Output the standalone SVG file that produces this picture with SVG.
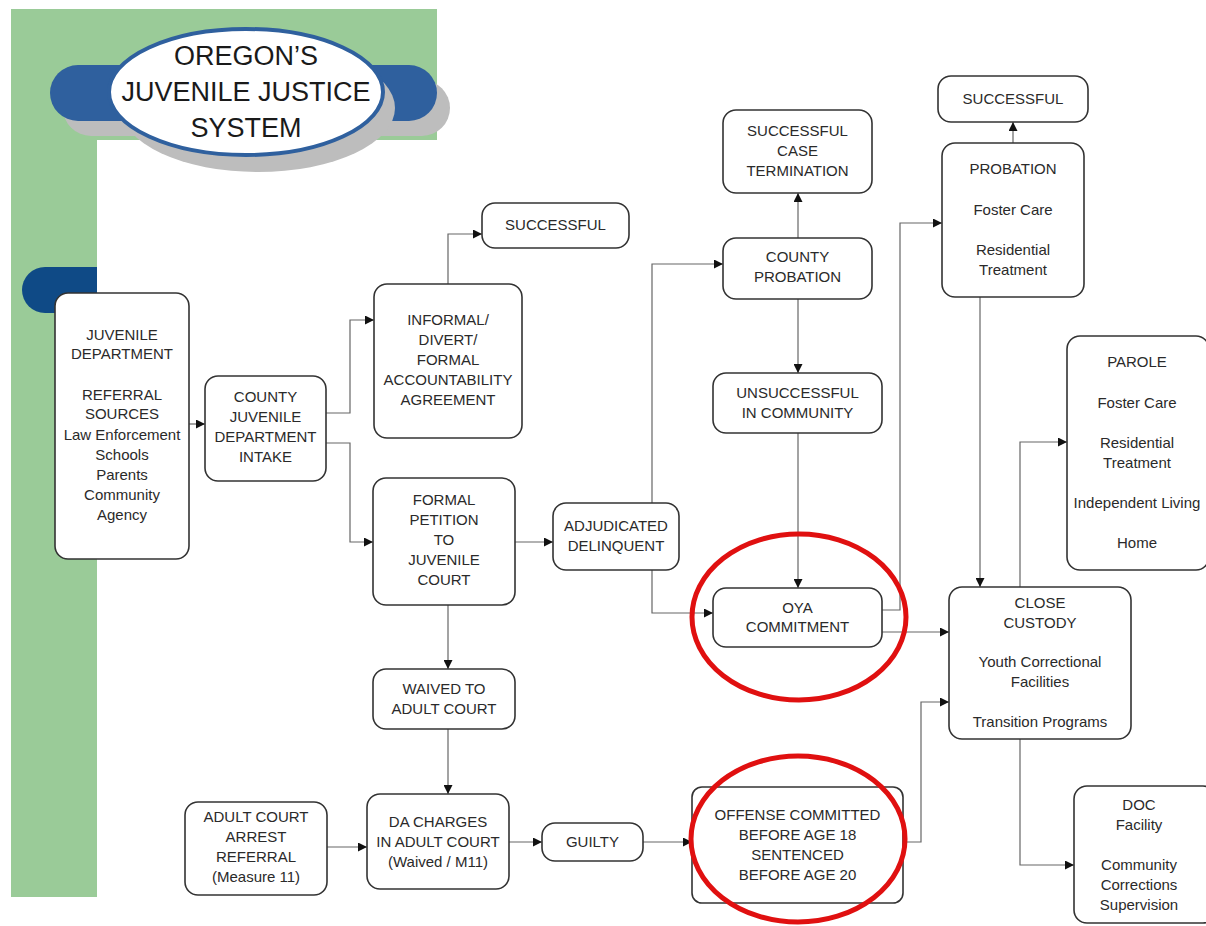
<svg xmlns="http://www.w3.org/2000/svg" width="1206" height="926" viewBox="0 0 1206 926">
<style>
.box{fill:#fff;stroke:#333;stroke-width:1.6}
.t{font-family:"Liberation Sans",Arial,sans-serif;font-size:15px;fill:#2a2a2a;text-anchor:middle}
.title{font-family:"Liberation Sans",Arial,sans-serif;font-size:27px;fill:#1a1a1a;text-anchor:middle}
.c{fill:none;stroke:#666;stroke-width:1.2}
.ring{fill:none;stroke:#e01010;stroke-width:5}
</style>
<defs>
<marker id="ah" viewBox="0 0 10 10" refX="10" refY="5" markerWidth="9" markerHeight="9" markerUnits="userSpaceOnUse" orient="auto">
<path d="M0,0 L10,5 L0,10 z" fill="#111"/>
</marker>
</defs>
<rect width="1206" height="926" fill="#fff"/>
<g id="background">
<path d="M11,9 H437 V140 H97 V897 H11 Z" fill="#9acb98"/>
<rect x="63" y="80" width="387" height="56" rx="28" fill="#bdbdbd"/>
<rect x="50" y="65" width="387" height="56" rx="28" fill="#2f609e"/>
<ellipse cx="258" cy="108" rx="137" ry="64" fill="#bdbdbd"/>
<ellipse cx="246" cy="92" rx="137" ry="63" fill="#fff" stroke="#2f609e" stroke-width="4"/>
<text class="title" x="246" y="65">OREGON’S</text>
<text class="title" x="246" y="101">JUVENILE JUSTICE</text>
<text class="title" x="246" y="137">SYSTEM</text>
<path d="M97,267 H45 A23,23 0 0 0 45,313 H97 Z" fill="#0f4a86"/>
</g>
<g id="connectors">
<path class="c" marker-end="url(#ah)" d="M189,424 H205"/>
<path class="c" marker-end="url(#ah)" d="M326,413 H350 V320 H374"/>
<path class="c" marker-end="url(#ah)" d="M326,443 H350 V542 H373"/>
<path class="c" marker-end="url(#ah)" d="M448,284 V234 H482"/>
<path class="c" marker-end="url(#ah)" d="M515,542 H553"/>
<path class="c" marker-end="url(#ah)" d="M448,605 V669"/>
<path class="c" marker-end="url(#ah)" d="M448,729 V794"/>
<path class="c" marker-end="url(#ah)" d="M327,847 H367"/>
<path class="c" marker-end="url(#ah)" d="M509,842 H542"/>
<path class="c" marker-end="url(#ah)" d="M643,842 H692"/>
<path class="c" marker-end="url(#ah)" d="M903,842 H921 V702 H949"/>
<path class="c" marker-end="url(#ah)" d="M652,503 V264 H723"/>
<path class="c" marker-end="url(#ah)" d="M652,570 V613 H713"/>
<path class="c" marker-end="url(#ah)" d="M798,238 V193"/>
<path class="c" marker-end="url(#ah)" d="M798,299 V373"/>
<path class="c" marker-end="url(#ah)" d="M798,433 V588"/>
<path class="c" marker-end="url(#ah)" d="M882,610 H900 V223 H942"/>
<path class="c" marker-end="url(#ah)" d="M882,632 H949"/>
<path class="c" marker-end="url(#ah)" d="M1013,143 V122"/>
<path class="c" marker-end="url(#ah)" d="M980,297 V587"/>
<path class="c" marker-end="url(#ah)" d="M1020,587 V442 H1067"/>
<path class="c" marker-end="url(#ah)" d="M1020,739 V865 H1074"/>
</g>
<g id="juvenile-department">
<rect class="box" x="55" y="293" width="134" height="266" rx="13"/>
<text class="t" x="122" y="340">JUVENILE</text>
<text class="t" x="122" y="359">DEPARTMENT</text>
<text class="t" x="122" y="400">REFERRAL</text>
<text class="t" x="122" y="419">SOURCES</text>
<text class="t" x="122" y="440">Law Enforcement</text>
<text class="t" x="122" y="460">Schools</text>
<text class="t" x="122" y="480">Parents</text>
<text class="t" x="122" y="500">Community</text>
<text class="t" x="122" y="520">Agency</text>
</g>
<g id="intake">
<rect class="box" x="205" y="376" width="121" height="105" rx="13"/>
<text class="t" x="265.5" y="402">COUNTY</text>
<text class="t" x="265.5" y="422">JUVENILE</text>
<text class="t" x="265.5" y="442">DEPARTMENT</text>
<text class="t" x="265.5" y="462">INTAKE</text>
</g>
<g id="informal">
<rect class="box" x="374" y="284" width="148" height="154" rx="13"/>
<text class="t" x="448" y="325">INFORMAL/</text>
<text class="t" x="448" y="345">DIVERT/</text>
<text class="t" x="448" y="365">FORMAL</text>
<text class="t" x="448" y="385">ACCOUNTABILITY</text>
<text class="t" x="448" y="405">AGREEMENT</text>
</g>
<g id="successful-1">
<rect class="box" x="482" y="203" width="147" height="45" rx="13"/>
<text class="t" x="555.5" y="230">SUCCESSFUL</text>
</g>
<g id="formal-petition">
<rect class="box" x="373" y="478" width="142" height="127" rx="13"/>
<text class="t" x="444" y="505">FORMAL</text>
<text class="t" x="444" y="525">PETITION</text>
<text class="t" x="444" y="545">TO</text>
<text class="t" x="444" y="565">JUVENILE</text>
<text class="t" x="444" y="585">COURT</text>
</g>
<g id="adjudicated">
<rect class="box" x="553" y="503" width="126" height="67" rx="13"/>
<text class="t" x="616" y="531">ADJUDICATED</text>
<text class="t" x="616" y="551">DELINQUENT</text>
</g>
<g id="waived">
<rect class="box" x="373" y="669" width="142" height="60" rx="13"/>
<text class="t" x="444" y="694">WAIVED TO</text>
<text class="t" x="444" y="714">ADULT COURT</text>
</g>
<g id="da-charges">
<rect class="box" x="367" y="794" width="142" height="95" rx="13"/>
<text class="t" x="438" y="827">DA CHARGES</text>
<text class="t" x="438" y="847">IN ADULT COURT</text>
<text class="t" x="438" y="867">(Waived / M11)</text>
</g>
<g id="adult-court-arrest">
<rect class="box" x="185" y="802" width="142" height="93" rx="13"/>
<text class="t" x="256" y="822">ADULT COURT</text>
<text class="t" x="256" y="842">ARREST</text>
<text class="t" x="256" y="862">REFERRAL</text>
<text class="t" x="256" y="882">(Measure 11)</text>
</g>
<g id="guilty">
<rect class="box" x="542" y="823" width="101" height="38" rx="13"/>
<text class="t" x="592.5" y="847">GUILTY</text>
</g>
<g id="offense">
<rect class="box" x="692" y="787" width="211" height="116" rx="10"/>
<text class="t" x="797.5" y="820">OFFENSE COMMITTED</text>
<text class="t" x="797.5" y="840">BEFORE AGE 18</text>
<text class="t" x="797.5" y="860">SENTENCED</text>
<text class="t" x="797.5" y="880">BEFORE AGE 20</text>
</g>
<g id="successful-case-termination">
<rect class="box" x="723" y="110" width="149" height="83" rx="13"/>
<text class="t" x="797.5" y="136">SUCCESSFUL</text>
<text class="t" x="797.5" y="156">CASE</text>
<text class="t" x="797.5" y="176">TERMINATION</text>
</g>
<g id="county-probation">
<rect class="box" x="723" y="238" width="149" height="61" rx="13"/>
<text class="t" x="797.5" y="262">COUNTY</text>
<text class="t" x="797.5" y="282">PROBATION</text>
</g>
<g id="unsuccessful">
<rect class="box" x="713" y="373" width="169" height="60" rx="13"/>
<text class="t" x="797.5" y="398">UNSUCCESSFUL</text>
<text class="t" x="797.5" y="418">IN COMMUNITY</text>
</g>
<g id="oya-commitment">
<rect class="box" x="713" y="588" width="169" height="59" rx="13"/>
<text class="t" x="797.5" y="613">OYA</text>
<text class="t" x="797.5" y="632">COMMITMENT</text>
</g>
<g id="successful-2">
<rect class="box" x="938" y="76" width="150" height="46" rx="13"/>
<text class="t" x="1013" y="104">SUCCESSFUL</text>
</g>
<g id="probation">
<rect class="box" x="942" y="143" width="142" height="154" rx="13"/>
<text class="t" x="1013" y="174">PROBATION</text>
<text class="t" x="1013" y="215">Foster Care</text>
<text class="t" x="1013" y="255">Residential</text>
<text class="t" x="1013" y="275">Treatment</text>
</g>
<g id="parole">
<rect class="box" x="1067" y="336" width="142" height="234" rx="13"/>
<text class="t" x="1137" y="367">PAROLE</text>
<text class="t" x="1137" y="408">Foster Care</text>
<text class="t" x="1137" y="448">Residential</text>
<text class="t" x="1137" y="468">Treatment</text>
<text class="t" x="1137" y="508">Independent Living</text>
<text class="t" x="1137" y="548">Home</text>
</g>
<g id="close-custody">
<rect class="box" x="949" y="587" width="182" height="152" rx="13"/>
<text class="t" x="1040" y="608">CLOSE</text>
<text class="t" x="1040" y="628">CUSTODY</text>
<text class="t" x="1040" y="667">Youth Correctional</text>
<text class="t" x="1040" y="687">Facilities</text>
<text class="t" x="1040" y="727">Transition Programs</text>
</g>
<g id="doc-facility">
<rect class="box" x="1074" y="786" width="142" height="137" rx="13"/>
<text class="t" x="1139" y="810">DOC</text>
<text class="t" x="1139" y="830">Facility</text>
<text class="t" x="1139" y="870">Community</text>
<text class="t" x="1139" y="890">Corrections</text>
<text class="t" x="1139" y="910">Supervision</text>
</g>
<g id="highlights">
<ellipse class="ring" cx="799" cy="617" rx="107" ry="83"/>
<ellipse class="ring" cx="798" cy="839" rx="107" ry="83"/>
</g>
</svg>
